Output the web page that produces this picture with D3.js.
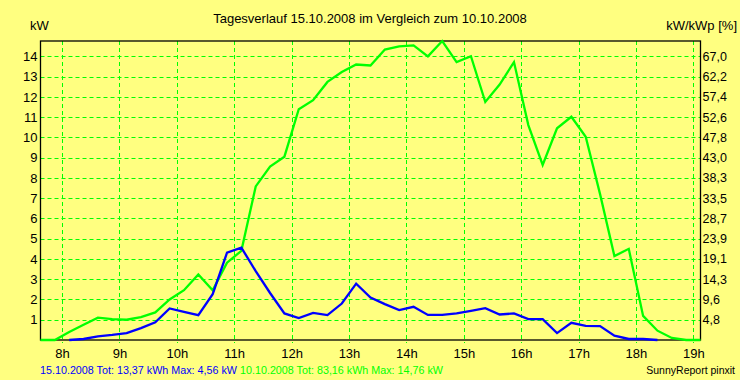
<!DOCTYPE html>
<html><head><meta charset="utf-8">
<script src="https://cdn.jsdelivr.net/npm/d3@7/dist/d3.min.js"></script>
<style>
html,body{margin:0;padding:0;background:#FFFF80;}
svg{display:block;}
text{font-family:"Liberation Sans",Arial,sans-serif;}
</style></head>
<body>
<svg id="c" width="740" height="380"></svg>
<script>
// time of each 15-minute value (hours, bin centres)
const times = [7.625,7.875,8.125,8.375,8.625,8.875,9.125,9.375,9.625,9.875,
  10.125,10.375,10.625,10.875,11.125,11.375,11.625,11.875,12.125,12.375,
  12.625,12.875,13.125,13.375,13.625,13.875,14.125,14.375,14.625,14.875,
  15.125,15.375,15.625,15.875,16.125,16.375,16.625,16.875,17.125,17.375,
  17.625,17.875,18.125,18.375,18.625,18.875,19.125];
// 10.10.2008 (green), kW
const green = [0,0,0.4,0.75,1.1,1.03,1.0,1.13,1.36,2.0,
  2.46,3.24,2.46,3.82,4.4,7.58,8.56,9.05,11.39,11.84,
  12.74,13.23,13.6,13.55,14.34,14.49,14.54,14.0,14.76,13.72,
  14.01,11.75,12.61,13.72,10.61,8.64,10.45,11.02,10.03,7.2,
  4.14,4.5,1.19,0.46,0.1,0,0];
// 15.10.2008 (blue), kW
const blue = [null,null,0,0.05,0.18,0.25,0.34,0.59,0.87,1.56,
  1.39,1.23,2.26,4.31,4.56,3.4,2.32,1.31,1.08,1.34,
  1.23,1.8,2.78,2.1,1.77,1.48,1.64,1.24,1.24,1.31,
  1.44,1.57,1.26,1.31,1.03,1.03,0.34,0.85,0.7,0.69,
  0.21,0.05,0.05,0,null,null,null];
const hourTicks = [8,9,10,11,12,13,14,15,16,17,18,19];
const hourLabels = ["8h","9h","10h","11h","12h","13h","14h","15h","16h","17h","18h","19h"];
const kwTicks = [1,2,3,4,5,6,7,8,9,10,11,12,13,14];
const pctLabels = ["4,8","9,6","14,3","19,1","23,9","28,7","33,5","38,3","43,0","47,8","52,6","57,4","62,2","67,0"];
const title = "Tagesverlauf 15.10.2008 im Vergleich zum 10.10.2008";
const footBlue = "15.10.2008 Tot: 13,37 kWh Max: 4,56 kW";
const footGreen = "10.10.2008 Tot: 83,16 kWh Max: 14,76 kW";
const credit = "SunnyReport pinxit";

const svg = d3.select("#c");
const L = 40.5, R = 700.5, T = 41, B = 340;
const x = d3.scaleLinear().domain([times[0], times[times.length-1]]).range([L, R]);
const y = d3.scaleLinear().domain([0, d3.max(green)]).range([B, T]);
const lime = "#00FF00", blu = "#0000FF";

svg.append("rect").attr("width",740).attr("height",380).attr("fill","#FFFF80");

// grid
const g = svg.append("g");
g.selectAll("line.h").data(kwTicks).join("line")
  .attr("x1",L).attr("x2",R).attr("y1",d=>Math.round(y(d))+0.5).attr("y2",d=>Math.round(y(d))+0.5)
  .attr("stroke",lime).attr("stroke-dasharray","4,3").attr("stroke-width",1);
g.selectAll("line.v").data(hourTicks).join("line")
  .attr("x1",d=>Math.round(x(d))+0.5).attr("x2",d=>Math.round(x(d))+0.5).attr("y1",T).attr("y2",B+3)
  .attr("stroke",lime).attr("stroke-dasharray","4,3").attr("stroke-width",1);

// frame
svg.append("rect").attr("x",L).attr("y",T).attr("width",R-L).attr("height",B-T)
  .attr("fill","none").attr("stroke","#000").attr("stroke-width",1.3);

// lines
const line = d3.line().defined(d=>d[1]!=null).x(d=>x(d[0])).y(d=>y(d[1]));
svg.append("path").datum(times.map((t,i)=>[t,green[i]])).attr("d",line)
  .attr("fill","none").attr("stroke",lime).attr("stroke-width",2.3).attr("stroke-linejoin","miter");
svg.append("path").datum(times.map((t,i)=>[t,blue[i]])).attr("d",line)
  .attr("fill","none").attr("stroke",blu).attr("stroke-width",2.3).attr("stroke-linejoin","miter");

// axes labels
const yl = d3.axisLeft(y).tickValues(kwTicks).tickSize(0).tickPadding(3).tickFormat(d3.format("d"));
const ax1 = svg.append("g").attr("transform",`translate(${L},0)`).call(yl);
const ry = d3.scaleLinear().domain(y.domain()).range(y.range());
const yr = d3.axisRight(ry).tickValues(kwTicks).tickSize(0).tickPadding(2).tickFormat((d,i)=>pctLabels[i]);
const ax2 = svg.append("g").attr("transform",`translate(${R},0)`).call(yr);
const xa = d3.axisBottom(x).tickValues(hourTicks).tickSize(0).tickPadding(9).tickFormat((d,i)=>hourLabels[i]);
const ax3 = svg.append("g").attr("transform",`translate(0,${B})`).call(xa);
[ax1,ax2,ax3].forEach(a=>{a.select(".domain").remove();
  a.selectAll("text").attr("fill","#000").attr("font-size",13)
   .style("font-family",'"Liberation Sans",Arial,sans-serif');});
ax2.selectAll("text").attr("font-size",12.5);

svg.append("text").attr("x",370).attr("y",23).attr("text-anchor","middle").attr("font-size",13).text(title);
svg.append("text").attr("x",30).attr("y",30).attr("font-size",13).text("kW");
svg.append("text").attr("x",737).attr("y",30).attr("text-anchor","end").attr("font-size",13).text("kW/kWp [%]");

svg.append("text").attr("x",40).attr("y",374).attr("font-size",11.5)
  .attr("textLength",197).attr("lengthAdjust","spacingAndGlyphs").attr("fill",blu).text(footBlue);
svg.append("text").attr("x",240).attr("y",374).attr("font-size",11.5)
  .attr("textLength",203).attr("lengthAdjust","spacingAndGlyphs").attr("fill",lime).text(footGreen);
svg.append("text").attr("x",735).attr("y",374).attr("text-anchor","end").attr("font-size",10.5)
  .attr("fill","#000").text(credit);
</script>
</body></html>
